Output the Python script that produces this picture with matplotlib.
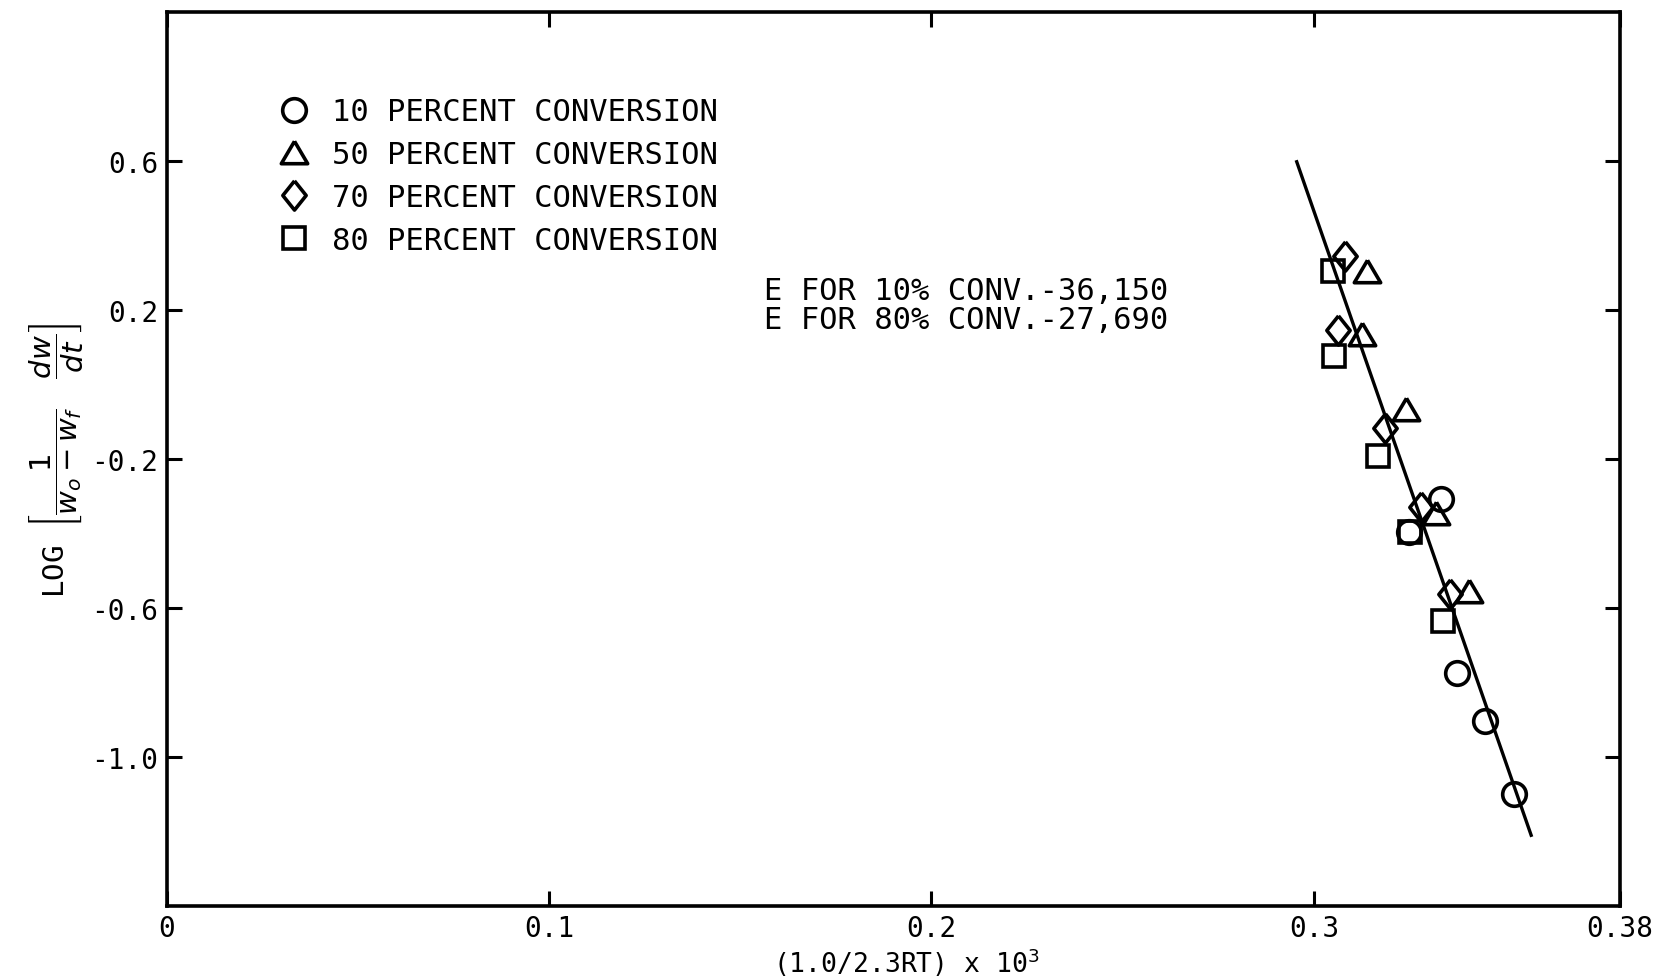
import matplotlib
matplotlib.use("Agg")
import matplotlib.pyplot as plt

# values
x_10 = [0.3333, 0.3249, 0.3375, 0.3448, 0.3523]
y_10 = [-0.306, -0.395, -0.775, -0.902, -1.100]

x_50 = [0.3140, 0.3126, 0.3241, 0.3319, 0.3405]
y_50 = [0.305, 0.135, -0.067, -0.346, -0.553]

x_70 = [0.3081, 0.3064, 0.3187, 0.3280, 0.3355]
y_70 = [0.345, 0.146, -0.116, -0.329, -0.562]

x_80 = [0.3050, 0.3053, 0.3168, 0.3252, 0.3338]
y_80 = [0.305, 0.077, -0.191, -0.395, -0.634]

fit_x = [0.2955, 0.3568]
fit_y = [0.598, -1.21]

xticks = [0, 0.1, 0.2, 0.3, 0.38]
xtick_labels = ["0", "0.1", "0.2", "0.3", "0.38"]
yticks = [0.6, 0.2, -0.2, -0.6, -1.0]
ytick_labels = ["0.6", "0.2", "-0.2", "-0.6", "-1.0"]

labels = ["10 PERCENT CONVERSION", "50 PERCENT CONVERSION",
          "70 PERCENT CONVERSION", "80 PERCENT CONVERSION"]
note = "E FOR 10% CONV.-36,150\nE FOR 80% CONV.-27,690"

plt.rcParams["font.family"] = ["DejaVu Sans Mono", "DejaVu Sans"]
plt.rcParams["mathtext.fontset"] = "dejavusans"

# marker shapes
tri = [(0, 0.85), (-1, -0.85), (1, -0.85), (0, 0.85)]
dia = [(0, 1), (0.8, 0), (0, -1), (-0.8, 0), (0, 1)]

fig = plt.figure(figsize=(16.79, 9.79), dpi=100)
ax = fig.add_axes([0.0992, 0.0735, 0.8656, 0.9132])

mk = dict(linestyle="none", markerfacecolor="none", markeredgecolor="black",
          markeredgewidth=2.6, color="black")
ax.plot(x_10, y_10, marker="o", markersize=17, label=labels[0], **mk)
ax.plot(x_50, y_50, marker=tri, markersize=19, label=labels[1], **mk)
ax.plot(x_70, y_70, marker=dia, markersize=21, label=labels[2], **mk)
ax.plot(x_80, y_80, marker="s", markersize=16, label=labels[3], **mk)
ax.plot(fit_x, fit_y, color="black", linewidth=2.4)

ax.set_xlim(0, 0.38)
ax.set_ylim(-1.4, 1.0)
ax.set_xticks(xticks)
ax.set_xticklabels(xtick_labels)
ax.set_yticks(yticks)
ax.set_yticklabels(ytick_labels)
ax.tick_params(direction="in", length=11, width=2.2, labelsize=20,
               top=True, right=True, pad=6)
for sp in ax.spines.values():
    sp.set_linewidth(2.6)

ax.set_xlabel(r"(1.0/2.3RT) x 10$^3$", fontsize=19)
ax.xaxis.set_label_coords(0.509, -0.044)
ax.set_ylabel(r"LOG $\left[\dfrac{1}{w_o - w_f}\quad\dfrac{dw}{dt}\right]$",
              fontsize=21, labelpad=4)

ax.text(0.1563, 0.2128, note, fontsize=22, ha="left", va="center",
        linespacing=1.0)

ax.legend(loc="upper left", bbox_to_anchor=(0.0774, 0.9045), frameon=False,
          fontsize=22, numpoints=1, handlelength=1.0, handletextpad=0.73,
          labelspacing=0.45, borderpad=0, borderaxespad=0)

fig.savefig("out.png", dpi=100)
